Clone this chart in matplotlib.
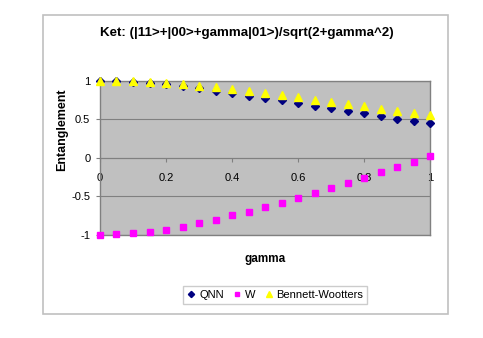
import matplotlib
matplotlib.use('Agg')
import matplotlib.pyplot as plt
from matplotlib.patches import Rectangle

plt.rcParams['font.family'] = ['Liberation Sans', 'DejaVu Sans']

# dados
gamma = [0.0, 0.05, 0.1, 0.15, 0.2, 0.25, 0.3, 0.35, 0.4, 0.45, 0.5,
         0.55, 0.6, 0.65, 0.7, 0.75, 0.8, 0.85, 0.9, 0.95, 1.0]
qnn = [1.0, 0.995, 0.985, 0.97, 0.955, 0.935, 0.9, 0.865, 0.835, 0.805, 0.775,
       0.75, 0.71, 0.675, 0.645, 0.61, 0.58, 0.54, 0.505, 0.48, 0.45]
w = [-1.0, -0.995, -0.98, -0.965, -0.94, -0.9, -0.855, -0.81, -0.75, -0.71, -0.64,
     -0.585, -0.53, -0.46, -0.39, -0.33, -0.26, -0.19, -0.12, -0.05, 0.02]
bennett = [1.0, 0.998, 0.993, 0.984, 0.972, 0.956, 0.938, 0.918, 0.894, 0.87, 0.843,
           0.815, 0.786, 0.756, 0.726, 0.696, 0.666, 0.636, 0.607, 0.578, 0.55]
yticks = [-1, -0.5, 0, 0.5, 1]
xticks = [0, 0.2, 0.4, 0.6, 0.8, 1]

fig = plt.figure(figsize=(4.83, 3.38), dpi=100)

# borda da area do grafico
fig.patches.append(Rectangle((0.088, 0.071), 0.839, 0.886, transform=fig.transFigure,
                             fill=False, edgecolor='#c0c0c0', linewidth=1.2))

ax = fig.add_axes([0.207, 0.306, 0.684, 0.455])
ax.set_facecolor('#c0c0c0')
ax.set_xlim(0, 1)
ax.set_ylim(-1, 1)

for s in ax.spines.values():
    s.set_color('#808080')
    s.set_linewidth(1)

ax.set_yticks(yticks)
ax.set_yticklabels(['-1', '-0.5', '0', '0.5', '1'])
ax.tick_params(axis='y', length=3, width=0.8, color='#808080', pad=4, labelsize=8)
ax.yaxis.grid(True, color='#808080', linewidth=0.8)
ax.set_axisbelow(True)
ax.set_xticks([])

# eixo x cruzando em y=0
sec = ax.secondary_xaxis(0.5)
sec.set_alignment('bottom')
sec.set_xticks(xticks)
sec.set_xticklabels(['0', '0.2', '0.4', '0.6', '0.8', '1'])
sec.tick_params(length=3, width=0.8, color='#808080', pad=8, labelsize=8)
sec.spines['bottom'].set_color('#808080')

ax.plot(gamma, qnn, linestyle='none', marker='D', markersize=4.5, color='#000080',
        label='QNN', clip_on=False, zorder=3)
ax.plot(gamma, w, linestyle='none', marker='s', markersize=4.5, color='#ff00ff',
        label='W', clip_on=False, zorder=3)
ax.plot(gamma, bennett, linestyle='none', marker='^', markersize=5.8, color='#ffff00',
        label='Bennett-Wootters', clip_on=False, zorder=4)

fig.text(247 / 483, 1 - 33 / 338, 'Ket: (|11>+|00>+gamma|01>)/sqrt(2+gamma^2)',
         ha='center', va='center', fontsize=9.6, fontweight='bold')
fig.text(62 / 483, 1 - 129.5 / 338, 'Entanglement', rotation=90, ha='center',
         va='center', fontsize=9, fontweight='bold')
fig.text(265 / 483, 1 - 259 / 338, 'gamma', ha='center', va='center',
         fontsize=8.5, fontweight='bold')

leg = fig.legend(loc='center', bbox_to_anchor=(275 / 483, 1 - 295 / 338), ncol=3,
                 fontsize=8, handlelength=0.8, handletextpad=0.3, columnspacing=0.8,
                 borderpad=0.35, fancybox=False, markerscale=0.7)
leg.get_frame().set_edgecolor('#c0c0c0')
leg.get_frame().set_linewidth(1)

fig.savefig('out.png', dpi=100)
